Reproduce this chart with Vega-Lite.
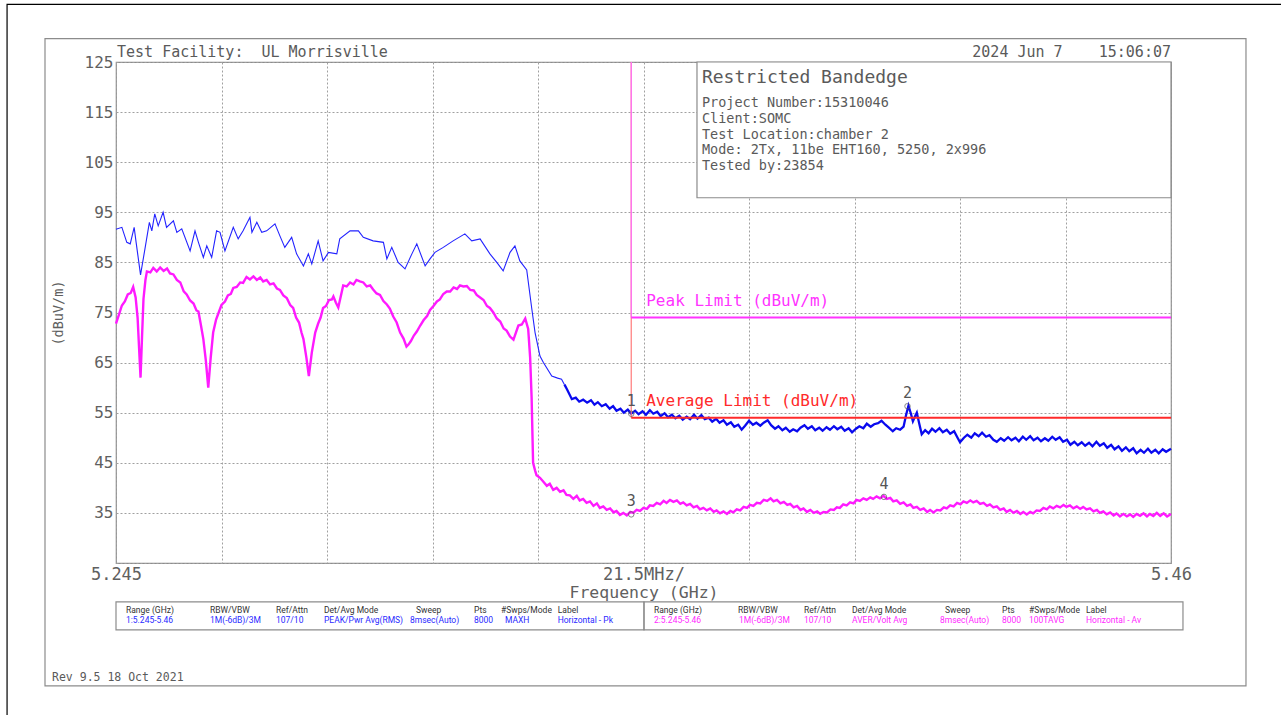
{
"$schema": "https://vega.github.io/schema/vega-lite/v6.json",
"width": 1055, "height": 501,
"autosize": {"type": "none"},
"padding": {"left": 116, "top": 62, "right": 110, "bottom": 152},
"background": "white",
"config": {"view": {"stroke": "#8c8c8c", "strokeWidth": 1.2}},
"resolve": {"scale": {"color": "independent", "stroke": "independent"}},
"datasets": {
"fr": [
{"k":"page","x1":5222.8,"x2":5495,"y1":136.5,"y2":-12},
{"k":"frame","x1":5230.53,"x2":5475.28,"y1":129.66,"y2":0.46},
{"k":"table","x1":5245,"x2":5352.6,"y1":17.26,"y2":11.66},
{"k":"table","x1":5352.6,"x2":5462.44,"y1":17.26,"y2":11.66}
],
"box": [{"x1":5363.4,"x2":5460,"y1":125,"y2":97.9}],
"lim": [
{"L":"Average","f":5350,"f2":5460,"lv":54,"t":"Average Limit (dBuV/m)"},
{"L":"Peak","f":5350,"f2":5460,"lv":74,"t":"Peak Limit (dBuV/m)"}
],
"mk": [
{"m":"1","f":5350.0,"v":54.8},
{"m":"2","f":5406.3,"v":56.3},
{"m":"3","f":5350.0,"v":34.7},
{"m":"4","f":5401.5,"v":38.2}
],
"pkA": [
{"f":5245.0,"v":91.6},{"f":5246.2,"v":92.0},{"f":5247.2,"v":89.0},{"f":5247.9,"v":88.7},{"f":5248.7,"v":92.0},{"f":5249.1,"v":89.0},{"f":5250.0,"v":82.5},{"f":5250.9,"v":87.7},{"f":5251.8,"v":93.0},{"f":5252.3,"v":91.3},{"f":5252.9,"v":94.7},{"f":5253.6,"v":92.3},{"f":5254.6,"v":95.0},{"f":5255.3,"v":92.0},{"f":5256.7,"v":93.3},{"f":5257.4,"v":91.0},{"f":5258.4,"v":91.7},{"f":5260.1,"v":87.3},{"f":5261.1,"v":91.3},{"f":5261.8,"v":89.0},{"f":5262.8,"v":86.0},{"f":5263.5,"v":88.3},{"f":5264.5,"v":86.0},{"f":5265.5,"v":91.3},{"f":5266.2,"v":91.0},{"f":5267.2,"v":87.3},{"f":5268.9,"v":92.0},{"f":5269.9,"v":89.7},{"f":5270.9,"v":91.3},{"f":5272.3,"v":94.0},{"f":5272.7,"v":91.0},{"f":5273.7,"v":93.0},{"f":5274.7,"v":91.0},{"f":5275.7,"v":91.3},{"f":5277.4,"v":92.7},{"f":5278.4,"v":90.3},{"f":5279.4,"v":88.0},{"f":5280.8,"v":90.0},{"f":5281.8,"v":86.7},{"f":5283.2,"v":84.3},{"f":5284.2,"v":86.7},{"f":5284.9,"v":84.7},{"f":5286.2,"v":89.3},{"f":5287.2,"v":85.3},{"f":5288.3,"v":87.0},{"f":5290.0,"v":86.7},{"f":5290.6,"v":89.7},{"f":5292.7,"v":91.3},{"f":5294.4,"v":91.3},{"f":5295.4,"v":90.0},{"f":5297.4,"v":89.3},{"f":5299.5,"v":89.0},{"f":5300.2,"v":85.7},{"f":5301.2,"v":88.0},{"f":5302.5,"v":85.0},{"f":5303.9,"v":83.7},{"f":5305.3,"v":86.7},{"f":5306.3,"v":88.7},{"f":5308.0,"v":84.3},{"f":5309.0,"v":85.7},{"f":5310.0,"v":87.0},{"f":5311.7,"v":88.0},{"f":5313.7,"v":89.3},{"f":5316.1,"v":90.7},{"f":5317.5,"v":89.3},{"f":5319.2,"v":89.7},{"f":5321.2,"v":86.7},{"f":5322.6,"v":85.0},{"f":5323.9,"v":83.3},{"f":5325.3,"v":87.0},{"f":5326.3,"v":88.3},{"f":5327.3,"v":85.3},{"f":5328.7,"v":83.5},{"f":5329.7,"v":76.0},{"f":5330.4,"v":71.0},{"f":5331.4,"v":66.3},{"f":5332.1,"v":65.0},{"f":5333.8,"v":62.3},{"f":5335.0,"v":61.9},{"f":5335.8,"v":61.7},{"f":5336.4,"v":60.6}
],
"pkB": [
{"f":5336.4,"v":60.6},{"f":5336.9,"v":59.7},{"f":5337.9,"v":57.7},{"f":5338.7,"v":58.0},{"f":5339.4,"v":57.2},{"f":5340.2,"v":57.6},{"f":5341.0,"v":57.0},{"f":5341.8,"v":57.5},{"f":5342.5,"v":56.6},{"f":5343.2,"v":57.1},{"f":5344.0,"v":56.3},{"f":5344.8,"v":56.7},{"f":5345.6,"v":55.8},{"f":5346.3,"v":56.3},{"f":5347.0,"v":55.4},{"f":5347.8,"v":55.8},{"f":5348.5,"v":55.0},{"f":5349.3,"v":55.6},{"f":5350.0,"v":54.8},{"f":5350.8,"v":55.4},{"f":5351.5,"v":54.7},{"f":5352.3,"v":55.3},{"f":5353.0,"v":54.6},{"f":5353.8,"v":55.5},{"f":5354.5,"v":54.8},{"f":5355.3,"v":55.2},{"f":5356.0,"v":54.3},{"f":5356.8,"v":54.9},{"f":5357.5,"v":54.1},{"f":5358.3,"v":54.6},{"f":5359.0,"v":53.9},{"f":5359.8,"v":54.4},{"f":5360.5,"v":53.6},{"f":5361.3,"v":54.2},{"f":5362.0,"v":53.7},{"f":5362.8,"v":54.6},{"f":5363.5,"v":53.8},{"f":5364.3,"v":54.5},{"f":5365.0,"v":53.7},{"f":5365.8,"v":54.0},{"f":5366.5,"v":53.2},{"f":5367.3,"v":53.8},{"f":5368.0,"v":53.0},{"f":5368.8,"v":53.5},{"f":5369.5,"v":52.6},{"f":5370.3,"v":53.1},{"f":5371.0,"v":52.2},{"f":5371.8,"v":52.6},{"f":5372.5,"v":51.6},{"f":5373.2,"v":52.4},{"f":5374.0,"v":53.4},{"f":5374.8,"v":52.6},{"f":5375.5,"v":53.0},{"f":5376.3,"v":52.4},{"f":5377.0,"v":53.0},{"f":5377.8,"v":53.5},{"f":5378.5,"v":52.5},{"f":5379.3,"v":51.8},{"f":5380.0,"v":52.3},{"f":5380.8,"v":51.5},{"f":5381.5,"v":52.0},{"f":5382.3,"v":51.2},{"f":5383.0,"v":51.7},{"f":5383.8,"v":51.3},{"f":5384.5,"v":52.0},{"f":5385.3,"v":52.5},{"f":5386.0,"v":51.8},{"f":5386.8,"v":52.3},{"f":5387.5,"v":51.5},{"f":5388.3,"v":52.0},{"f":5389.0,"v":51.4},{"f":5389.8,"v":52.1},{"f":5390.5,"v":51.6},{"f":5391.3,"v":52.3},{"f":5392.0,"v":51.7},{"f":5392.8,"v":52.2},{"f":5393.5,"v":51.4},{"f":5394.3,"v":51.9},{"f":5395.0,"v":51.1},{"f":5395.8,"v":51.8},{"f":5396.5,"v":52.3},{"f":5397.3,"v":51.9},{"f":5398.0,"v":52.8},{"f":5398.8,"v":52.2},{"f":5399.5,"v":52.7},{"f":5400.3,"v":52.9},{"f":5401.0,"v":53.4},{"f":5401.8,"v":52.6},{"f":5402.5,"v":52.0},{"f":5403.3,"v":51.3},{"f":5404.0,"v":51.9},{"f":5404.8,"v":51.6},{"f":5405.5,"v":52.2},{"f":5406.0,"v":54.5},{"f":5406.5,"v":56.4},{"f":5407.0,"v":54.8},{"f":5407.4,"v":53.3},{"f":5407.8,"v":54.2},{"f":5408.2,"v":55.0},{"f":5408.7,"v":52.8},{"f":5409.2,"v":50.7},{"f":5409.9,"v":51.5},{"f":5410.6,"v":50.9},{"f":5411.3,"v":51.8},{"f":5412.0,"v":51.2},{"f":5412.8,"v":51.9},{"f":5413.5,"v":51.1},{"f":5414.3,"v":51.6},{"f":5415.0,"v":50.8},{"f":5415.8,"v":51.3},{"f":5416.5,"v":50.0},{"f":5417.0,"v":49.1},{"f":5417.8,"v":50.0},{"f":5418.5,"v":50.6},{"f":5419.3,"v":50.0},{"f":5420.0,"v":50.9},{"f":5420.8,"v":50.3},{"f":5421.5,"v":51.0},{"f":5422.3,"v":50.2},{"f":5423.0,"v":50.5},{"f":5423.8,"v":49.6},{"f":5424.5,"v":49.2},{"f":5425.3,"v":49.9},{"f":5426.0,"v":49.4},{"f":5426.8,"v":50.1},{"f":5427.5,"v":49.5},{"f":5428.3,"v":50.0},{"f":5429.0,"v":49.3},{"f":5429.8,"v":50.2},{"f":5430.5,"v":49.6},{"f":5431.3,"v":50.3},{"f":5432.0,"v":49.5},{"f":5432.8,"v":50.0},{"f":5433.5,"v":49.3},{"f":5434.3,"v":49.9},{"f":5435.0,"v":49.4},{"f":5435.8,"v":50.2},{"f":5436.5,"v":49.6},{"f":5437.3,"v":50.1},{"f":5438.0,"v":49.2},{"f":5438.8,"v":49.6},{"f":5439.5,"v":48.6},{"f":5440.3,"v":49.2},{"f":5441.0,"v":48.5},{"f":5441.8,"v":49.1},{"f":5442.5,"v":48.4},{"f":5443.3,"v":49.0},{"f":5444.0,"v":48.3},{"f":5444.8,"v":49.2},{"f":5445.5,"v":48.4},{"f":5446.3,"v":48.9},{"f":5447.0,"v":48.0},{"f":5447.8,"v":48.6},{"f":5448.5,"v":47.7},{"f":5449.3,"v":48.3},{"f":5450.0,"v":47.4},{"f":5450.8,"v":48.1},{"f":5451.5,"v":47.3},{"f":5452.3,"v":47.9},{"f":5453.0,"v":46.9},{"f":5453.8,"v":47.6},{"f":5454.5,"v":47.0},{"f":5455.3,"v":47.8},{"f":5456.0,"v":47.0},{"f":5456.8,"v":47.6},{"f":5457.5,"v":46.9},{"f":5458.3,"v":47.7},{"f":5459.0,"v":47.2},{"f":5460.0,"v":47.8}
],
"av": [
{"f":5245.0,"v":72.8},{"f":5245.6,"v":74.6},{"f":5246.2,"v":76.4},{"f":5246.8,"v":77.2},{"f":5247.4,"v":78.6},{"f":5248.0,"v":78.9},{"f":5248.5,"v":80.1},{"f":5249.0,"v":78.0},{"f":5249.4,"v":74.0},{"f":5249.7,"v":68.0},{"f":5250.0,"v":62.0},{"f":5250.3,"v":70.0},{"f":5250.6,"v":77.7},{"f":5251.0,"v":81.5},{"f":5251.3,"v":83.2},{"f":5252.0,"v":83.0},{"f":5252.6,"v":83.9},{"f":5253.3,"v":83.2},{"f":5254.0,"v":84.0},{"f":5254.7,"v":83.3},{"f":5255.4,"v":83.8},{"f":5256.0,"v":82.8},{"f":5256.7,"v":82.6},{"f":5257.4,"v":81.5},{"f":5258.1,"v":81.0},{"f":5258.8,"v":79.2},{"f":5259.4,"v":78.6},{"f":5260.1,"v":77.4},{"f":5260.8,"v":76.8},{"f":5261.4,"v":75.4},{"f":5261.8,"v":75.2},{"f":5262.3,"v":72.5},{"f":5262.8,"v":69.7},{"f":5263.3,"v":65.5},{"f":5263.8,"v":60.0},{"f":5264.3,"v":66.0},{"f":5264.8,"v":71.0},{"f":5265.4,"v":73.6},{"f":5266.0,"v":75.2},{"f":5266.5,"v":76.5},{"f":5267.2,"v":77.2},{"f":5267.8,"v":78.4},{"f":5268.4,"v":78.7},{"f":5268.9,"v":79.9},{"f":5269.6,"v":80.1},{"f":5270.3,"v":81.0},{"f":5270.9,"v":80.9},{"f":5271.6,"v":82.1},{"f":5272.3,"v":81.6},{"f":5273.0,"v":82.2},{"f":5273.7,"v":81.5},{"f":5274.4,"v":82.0},{"f":5275.0,"v":81.2},{"f":5275.7,"v":81.5},{"f":5276.4,"v":80.6},{"f":5277.1,"v":80.8},{"f":5277.8,"v":79.8},{"f":5278.4,"v":79.5},{"f":5279.1,"v":78.4},{"f":5279.8,"v":77.9},{"f":5280.5,"v":76.5},{"f":5281.1,"v":75.9},{"f":5281.7,"v":74.0},{"f":5282.3,"v":73.0},{"f":5282.8,"v":71.0},{"f":5283.2,"v":69.7},{"f":5283.8,"v":66.0},{"f":5284.3,"v":62.3},{"f":5284.9,"v":67.0},{"f":5285.6,"v":71.0},{"f":5286.2,"v":72.8},{"f":5286.7,"v":74.0},{"f":5287.2,"v":75.9},{"f":5287.8,"v":76.3},{"f":5288.4,"v":77.5},{"f":5289.0,"v":77.6},{"f":5289.3,"v":78.2},{"f":5289.8,"v":77.0},{"f":5290.3,"v":76.0},{"f":5290.8,"v":78.2},{"f":5291.3,"v":80.4},{"f":5292.0,"v":80.2},{"f":5292.7,"v":81.0},{"f":5293.4,"v":80.6},{"f":5294.0,"v":81.5},{"f":5294.7,"v":81.2},{"f":5295.4,"v":81.0},{"f":5296.1,"v":80.2},{"f":5296.8,"v":80.4},{"f":5297.4,"v":79.6},{"f":5298.1,"v":78.8},{"f":5298.8,"v":78.5},{"f":5299.5,"v":77.3},{"f":5300.2,"v":76.6},{"f":5300.8,"v":75.8},{"f":5301.5,"v":74.2},{"f":5302.2,"v":73.0},{"f":5302.9,"v":71.0},{"f":5303.6,"v":69.8},{"f":5304.2,"v":68.2},{"f":5304.6,"v":68.6},{"f":5305.1,"v":69.3},{"f":5305.7,"v":70.4},{"f":5306.3,"v":71.2},{"f":5307.0,"v":72.4},{"f":5307.7,"v":73.5},{"f":5308.4,"v":74.3},{"f":5309.0,"v":75.5},{"f":5309.7,"v":76.3},{"f":5310.4,"v":77.2},{"f":5311.0,"v":77.6},{"f":5311.7,"v":78.7},{"f":5312.4,"v":79.2},{"f":5313.1,"v":79.2},{"f":5313.8,"v":80.0},{"f":5314.5,"v":79.7},{"f":5315.1,"v":80.4},{"f":5315.8,"v":80.2},{"f":5316.5,"v":80.3},{"f":5317.2,"v":79.5},{"f":5317.9,"v":79.4},{"f":5318.5,"v":78.5},{"f":5319.2,"v":78.0},{"f":5319.9,"v":77.5},{"f":5320.6,"v":76.3},{"f":5321.2,"v":75.9},{"f":5321.9,"v":75.0},{"f":5322.6,"v":73.8},{"f":5323.3,"v":73.2},{"f":5324.0,"v":71.8},{"f":5324.6,"v":71.4},{"f":5325.3,"v":70.2},{"f":5326.0,"v":69.6},{"f":5326.5,"v":71.0},{"f":5327.0,"v":72.4},{"f":5327.7,"v":72.6},{"f":5328.4,"v":73.8},{"f":5329.0,"v":71.7},{"f":5329.4,"v":66.0},{"f":5329.7,"v":58.0},{"f":5330.0,"v":45.0},{"f":5330.4,"v":43.5},{"f":5330.7,"v":42.5},{"f":5331.4,"v":42.0},{"f":5332.1,"v":41.2},{"f":5332.8,"v":40.4},{"f":5333.4,"v":40.8},{"f":5334.1,"v":39.6},{"f":5334.8,"v":40.0},{"f":5335.5,"v":39.2},{"f":5336.2,"v":39.5},{"f":5336.8,"v":38.6},{"f":5337.5,"v":38.5},{"f":5338.2,"v":37.8},{"f":5338.9,"v":38.4},{"f":5339.5,"v":37.5},{"f":5340.2,"v":37.8},{"f":5340.9,"v":37.0},{"f":5341.6,"v":37.3},{"f":5342.3,"v":36.4},{"f":5343.0,"v":36.9},{"f":5343.6,"v":36.0},{"f":5344.3,"v":36.3},{"f":5345.0,"v":35.6},{"f":5345.7,"v":35.9},{"f":5346.4,"v":35.1},{"f":5347.0,"v":35.4},{"f":5347.7,"v":34.6},{"f":5348.4,"v":35.0},{"f":5349.1,"v":34.5},{"f":5349.8,"v":35.2},{"f":5350.4,"v":35.0},{"f":5351.1,"v":35.6},{"f":5351.8,"v":35.4},{"f":5352.5,"v":36.0},{"f":5353.2,"v":35.8},{"f":5353.8,"v":36.5},{"f":5354.5,"v":36.4},{"f":5355.2,"v":37.0},{"f":5355.9,"v":36.7},{"f":5356.6,"v":37.4},{"f":5357.2,"v":37.0},{"f":5357.9,"v":37.6},{"f":5358.6,"v":37.2},{"f":5359.3,"v":37.5},{"f":5360.0,"v":36.8},{"f":5360.6,"v":37.1},{"f":5361.3,"v":36.5},{"f":5362.0,"v":36.8},{"f":5362.7,"v":36.1},{"f":5363.4,"v":36.4},{"f":5364.0,"v":35.7},{"f":5364.7,"v":36.0},{"f":5365.4,"v":35.5},{"f":5366.1,"v":35.9},{"f":5366.8,"v":35.2},{"f":5367.4,"v":35.5},{"f":5368.1,"v":34.9},{"f":5368.8,"v":35.3},{"f":5369.5,"v":34.8},{"f":5370.2,"v":35.4},{"f":5370.8,"v":35.1},{"f":5371.5,"v":35.7},{"f":5372.2,"v":35.5},{"f":5372.9,"v":36.2},{"f":5373.6,"v":36.0},{"f":5374.2,"v":36.6},{"f":5374.9,"v":36.4},{"f":5375.6,"v":37.0},{"f":5376.3,"v":36.9},{"f":5377.0,"v":37.6},{"f":5377.7,"v":37.4},{"f":5378.4,"v":37.9},{"f":5379.0,"v":37.3},{"f":5379.7,"v":37.6},{"f":5380.4,"v":36.9},{"f":5381.1,"v":37.2},{"f":5381.8,"v":36.6},{"f":5382.4,"v":36.8},{"f":5383.1,"v":36.1},{"f":5383.8,"v":36.4},{"f":5384.5,"v":35.6},{"f":5385.1,"v":35.9},{"f":5385.8,"v":35.2},{"f":5386.5,"v":35.6},{"f":5387.2,"v":35.0},{"f":5387.9,"v":35.3},{"f":5388.5,"v":34.8},{"f":5389.2,"v":35.2},{"f":5389.9,"v":35.1},{"f":5390.6,"v":35.7},{"f":5391.3,"v":35.6},{"f":5391.9,"v":36.1},{"f":5392.5,"v":36.0},{"f":5393.2,"v":36.7},{"f":5393.9,"v":36.5},{"f":5394.6,"v":37.1},{"f":5395.3,"v":36.9},{"f":5395.9,"v":37.6},{"f":5396.6,"v":37.4},{"f":5397.3,"v":37.9},{"f":5398.0,"v":37.6},{"f":5398.7,"v":38.1},{"f":5399.3,"v":37.8},{"f":5400.0,"v":38.3},{"f":5400.7,"v":37.9},{"f":5401.4,"v":38.4},{"f":5402.1,"v":37.8},{"f":5402.8,"v":38.0},{"f":5403.4,"v":37.3},{"f":5404.1,"v":37.5},{"f":5404.8,"v":36.8},{"f":5405.5,"v":37.1},{"f":5406.2,"v":36.4},{"f":5406.9,"v":36.7},{"f":5407.5,"v":36.0},{"f":5408.2,"v":36.2},{"f":5408.9,"v":35.6},{"f":5409.6,"v":35.9},{"f":5410.3,"v":35.2},{"f":5410.9,"v":35.6},{"f":5411.6,"v":35.1},{"f":5412.3,"v":35.6},{"f":5413.0,"v":35.5},{"f":5413.7,"v":36.1},{"f":5414.3,"v":35.9},{"f":5415.0,"v":36.5},{"f":5415.7,"v":36.3},{"f":5416.4,"v":37.0},{"f":5417.1,"v":36.7},{"f":5417.7,"v":37.3},{"f":5418.4,"v":37.0},{"f":5419.1,"v":37.5},{"f":5419.7,"v":37.1},{"f":5420.4,"v":37.4},{"f":5421.1,"v":36.8},{"f":5421.8,"v":37.0},{"f":5422.5,"v":36.4},{"f":5423.1,"v":36.7},{"f":5423.8,"v":36.1},{"f":5424.5,"v":36.3},{"f":5425.2,"v":35.6},{"f":5425.9,"v":35.9},{"f":5426.5,"v":35.2},{"f":5427.2,"v":35.6},{"f":5427.9,"v":35.0},{"f":5428.6,"v":35.4},{"f":5429.3,"v":34.8},{"f":5429.9,"v":35.2},{"f":5430.6,"v":34.7},{"f":5431.3,"v":35.2},{"f":5431.9,"v":34.9},{"f":5432.6,"v":35.5},{"f":5433.3,"v":35.4},{"f":5434.0,"v":36.0},{"f":5434.7,"v":35.7},{"f":5435.3,"v":36.3},{"f":5436.0,"v":35.9},{"f":5436.7,"v":36.4},{"f":5437.4,"v":36.1},{"f":5438.1,"v":36.6},{"f":5438.7,"v":36.2},{"f":5439.4,"v":36.5},{"f":5440.1,"v":35.9},{"f":5440.8,"v":36.3},{"f":5441.5,"v":35.8},{"f":5442.1,"v":36.2},{"f":5442.8,"v":35.7},{"f":5443.5,"v":35.9},{"f":5444.2,"v":35.3},{"f":5444.9,"v":35.6},{"f":5445.5,"v":35.0},{"f":5446.2,"v":35.3},{"f":5446.9,"v":34.7},{"f":5447.6,"v":35.1},{"f":5448.3,"v":34.5},{"f":5448.9,"v":34.9},{"f":5449.6,"v":34.3},{"f":5450.3,"v":34.8},{"f":5451.0,"v":34.3},{"f":5451.7,"v":34.7},{"f":5452.3,"v":34.2},{"f":5453.0,"v":34.8},{"f":5453.7,"v":34.4},{"f":5454.4,"v":34.9},{"f":5455.1,"v":34.3},{"f":5455.7,"v":34.8},{"f":5456.4,"v":34.4},{"f":5457.1,"v":35.0},{"f":5457.8,"v":34.4},{"f":5458.5,"v":34.9},{"f":5459.2,"v":34.3},{"f":5460.0,"v":34.8}
],
"th": [
{"x":5247.04,"t":"Range (GHz)"},{"x":5264.16,"t":"RBW/VBW"},{"x":5277.61,"t":"Ref/Attn"},{"x":5287.39,"t":"Det/Avg Mode"},{"x":5306.14,"t":"Sweep"},{"x":5317.96,"t":"Pts"},{"x":5323.46,"t":"#Swps/Mode"},{"x":5335.01,"t":"Label"},
{"x":5354.64,"t":"Range (GHz)"},{"x":5371.76,"t":"RBW/VBW"},{"x":5385.21,"t":"Ref/Attn"},{"x":5394.99,"t":"Det/Avg Mode"},{"x":5413.94,"t":"Sweep"},{"x":5425.56,"t":"Pts"},{"x":5431.06,"t":"#Swps/Mode"},{"x":5442.68,"t":"Label"}
],
"tv": [
{"x":5247.04,"t":"1:5.245-5.46","s":"Pk"},{"x":5264.16,"t":"1M(-6dB)/3M","s":"Pk"},{"x":5277.61,"t":"107/10","s":"Pk"},{"x":5287.39,"t":"PEAK/Pwr Avg(RMS)","s":"Pk"},{"x":5304.91,"t":"8msec(Auto)","s":"Pk"},{"x":5317.96,"t":"8000","s":"Pk"},{"x":5324.27,"t":"MAXH","s":"Pk"},{"x":5335.01,"t":"Horizontal - Pk","s":"Pk"},
{"x":5354.64,"t":"2:5.245-5.46","s":"Av"},{"x":5371.96,"t":"1M(-6dB)/3M","s":"Av"},{"x":5385.21,"t":"107/10","s":"Av"},{"x":5394.99,"t":"AVER/Volt Avg","s":"Av"},{"x":5412.92,"t":"8msec(Auto)","s":"Av"},{"x":5425.56,"t":"8000","s":"Av"},{"x":5431.06,"t":"100TAVG","s":"Av"},{"x":5442.68,"t":"Horizontal - Av","s":"Av"}
]
},
"layer": [
{
"data": {"name": "fr"},
"mark": {"type": "rect", "fillOpacity": 0, "strokeWidth": 1.2},
"encoding": {
"x": {"field": "x1", "type": "quantitative", "scale": {"domain": [5245, 5460], "nice": false, "zero": false}},
"x2": {"field": "x2"},
"y": {"field": "y1", "type": "quantitative", "scale": {"domain": [25, 125], "nice": false, "zero": false}},
"y2": {"field": "y2"},
"stroke": {"field": "k", "type": "nominal", "scale": {"domain": ["page", "frame", "table"], "range": ["#000000", "#8c8c8c", "#8c8c8c"]}, "legend": null}
}
},
{
"data": {"name": "pkA"},
"mark": {"type": "line", "color": "#2323ff", "strokeWidth": 1.1},
"encoding": {
"x": {"field": "f", "type": "quantitative", "scale": {"domain": [5245, 5460], "nice": false, "zero": false},
"axis": {"values": [5245, 5266.5, 5288, 5309.5, 5331, 5352.5, 5374, 5395.5, 5417, 5438.5, 5460],
"labelExpr": "datum.value == 5245 ? '5.245' : (datum.value == 5352.5 ? '21.5MHz/' : (datum.value == 5460 ? '5.46' : ''))",
"grid": true, "gridColor": "#a0a0a0", "gridDash": [2, 2], "ticks": false, "domain": false,
"labelFlush": false, "labelOverlap": false, "labelFont": "DejaVu Sans Mono", "labelFontSize": 17, "labelColor": "#606060", "labelPadding": 3,
"title": "Frequency (GHz)", "titleFont": "DejaVu Sans Mono", "titleFontSize": 16.5, "titleFontWeight": "normal", "titleColor": "#606060", "titleY": 21, "titleBaseline": "top"}},
"y": {"field": "v", "type": "quantitative", "scale": {"domain": [25, 125], "nice": false, "zero": false},
"axis": {"values": [25, 35, 45, 55, 65, 75, 85, 95, 105, 115, 125],
"labelExpr": "datum.value == 25 ? '' : datum.label",
"grid": true, "gridColor": "#a0a0a0", "gridDash": [2, 2], "ticks": false, "domain": false,
"labelFont": "DejaVu Sans Mono", "labelFontSize": 16, "labelColor": "#606060", "labelPadding": 3,
"title": "(dBuV/m)", "titleFont": "DejaVu Sans Mono", "titleFontSize": 13.5, "titleFontWeight": "normal", "titleColor": "#606060",
"titleX": -58, "titleY": 250.5, "titleAngle": -90, "titleAlign": "center", "titleBaseline": "middle"}}
}
},
{
"data": {"name": "pkB"},
"mark": {"type": "line", "color": "#0a0aee", "strokeWidth": 2.3},
"encoding": {
"x": {"field": "f", "type": "quantitative", "scale": {"domain": [5245, 5460], "nice": false, "zero": false}},
"y": {"field": "v", "type": "quantitative", "scale": {"domain": [25, 125], "nice": false, "zero": false}}
}
},
{
"data": {"name": "av"},
"mark": {"type": "line", "color": "#ff1aff", "strokeWidth": 2.4},
"encoding": {
"x": {"field": "f", "type": "quantitative", "scale": {"domain": [5245, 5460], "nice": false, "zero": false}},
"y": {"field": "v", "type": "quantitative", "scale": {"domain": [25, 125], "nice": false, "zero": false}}
}
},
{
"data": {"name": "box"},
"mark": {"type": "rect", "fill": "white", "stroke": "#8c8c8c", "strokeWidth": 1.2},
"encoding": {
"x": {"field": "x1", "type": "quantitative", "scale": {"domain": [5245, 5460], "nice": false, "zero": false}},
"x2": {"field": "x2"},
"y": {"field": "y1", "type": "quantitative", "scale": {"domain": [25, 125], "nice": false, "zero": false}},
"y2": {"field": "y2"}
}
},
{
"data": {"name": "lim"},
"transform": [{"filter": "datum.L == 'Average'"}],
"mark": {"type": "rule", "strokeWidth": 1.2, "color": "#ff7a7a"},
"encoding": {
"x": {"field": "f", "type": "quantitative", "scale": {"domain": [5245, 5460], "nice": false, "zero": false}},
"y": {"field": "lv", "type": "quantitative", "scale": {"domain": [25, 125], "nice": false, "zero": false}},
"y2": {"datum": 125}
}
},
{
"data": {"name": "lim"},
"transform": [{"filter": "datum.L == 'Peak'"}],
"mark": {"type": "rule", "strokeWidth": 1.2, "color": "#ff70ff"},
"encoding": {
"x": {"field": "f", "type": "quantitative", "scale": {"domain": [5245, 5460], "nice": false, "zero": false}},
"y": {"field": "lv", "type": "quantitative", "scale": {"domain": [25, 125], "nice": false, "zero": false}},
"y2": {"datum": 125}
}
},
{
"data": {"name": "lim"},
"mark": {"type": "rule", "strokeWidth": 2},
"encoding": {
"x": {"field": "f", "type": "quantitative", "scale": {"domain": [5245, 5460], "nice": false, "zero": false}},
"x2": {"field": "f2"},
"y": {"field": "lv", "type": "quantitative", "scale": {"domain": [25, 125], "nice": false, "zero": false}},
"color": {"field": "L", "type": "nominal", "scale": {"domain": ["Peak", "Average"], "range": ["#ff33ff", "#ff2a2a"]}, "legend": null}
}
},
{
"data": {"name": "lim"},
"mark": {"type": "text", "align": "left", "baseline": "middle", "dx": 15, "dy": -17, "font": "DejaVu Sans Mono", "fontSize": 16},
"encoding": {
"x": {"field": "f", "type": "quantitative", "scale": {"domain": [5245, 5460], "nice": false, "zero": false}},
"y": {"field": "lv", "type": "quantitative", "scale": {"domain": [25, 125], "nice": false, "zero": false}},
"text": {"field": "t"},
"color": {"field": "L", "type": "nominal", "scale": {"domain": ["Peak", "Average"], "range": ["#ff33ff", "#ff2a2a"]}, "legend": null}
}
},
{
"data": {"name": "mk"},
"mark": {"type": "point", "shape": "circle", "size": 30, "filled": false, "color": "#555555", "strokeWidth": 1},
"encoding": {
"x": {"field": "f", "type": "quantitative", "scale": {"domain": [5245, 5460], "nice": false, "zero": false}},
"y": {"field": "v", "type": "quantitative", "scale": {"domain": [25, 125], "nice": false, "zero": false}}
}
},
{
"data": {"name": "mk"},
"mark": {"type": "text", "align": "center", "baseline": "middle", "dy": -13, "font": "DejaVu Sans Mono", "fontSize": 15, "color": "#555555"},
"encoding": {
"x": {"field": "f", "type": "quantitative", "scale": {"domain": [5245, 5460], "nice": false, "zero": false}},
"y": {"field": "v", "type": "quantitative", "scale": {"domain": [25, 125], "nice": false, "zero": false}},
"text": {"field": "m"}
}
},
{
"data": {"values": [{"t": "Test Facility:\u00a0\u00a0UL Morrisville", "x": 5245.2, "y": 125}]},
"mark": {"type": "text", "align": "left", "baseline": "middle", "dy": -10, "font": "DejaVu Sans Mono", "fontSize": 15, "color": "#5a5a5a"},
"encoding": {
"x": {"field": "x", "type": "quantitative", "scale": {"domain": [5245, 5460], "nice": false, "zero": false}},
"y": {"field": "y", "type": "quantitative", "scale": {"domain": [25, 125], "nice": false, "zero": false}},
"text": {"field": "t"}
}
},
{
"data": {"values": [{"t": "2024 Jun 7\u00a0\u00a0\u00a0\u00a015:06:07", "x": 5460, "y": 125}]},
"mark": {"type": "text", "align": "right", "baseline": "middle", "dy": -10, "font": "DejaVu Sans Mono", "fontSize": 15, "color": "#5a5a5a"},
"encoding": {
"x": {"field": "x", "type": "quantitative", "scale": {"domain": [5245, 5460], "nice": false, "zero": false}},
"y": {"field": "y", "type": "quantitative", "scale": {"domain": [25, 125], "nice": false, "zero": false}},
"text": {"field": "t"}
}
},
{
"data": {"values": [{"t": "Restricted Bandedge", "x": 5364.4, "y": 121.86}]},
"mark": {"type": "text", "align": "left", "baseline": "middle", "font": "DejaVu Sans Mono", "fontSize": 18, "color": "#5a5a5a"},
"encoding": {
"x": {"field": "x", "type": "quantitative", "scale": {"domain": [5245, 5460], "nice": false, "zero": false}},
"y": {"field": "y", "type": "quantitative", "scale": {"domain": [25, 125], "nice": false, "zero": false}},
"text": {"field": "t"}
}
},
{
"data": {"values": [{"t": ["Project Number:15310046", "Client:SOMC", "Test Location:chamber 2", "Mode: 2Tx, 11be EHT160, 5250, 2x996", "Tested by:23854"], "x": 5364.4, "y": 118.2}]},
"mark": {"type": "text", "align": "left", "baseline": "top", "lineHeight": 15.8, "font": "DejaVu Sans Mono", "fontSize": 13.5, "color": "#5a5a5a"},
"encoding": {
"x": {"field": "x", "type": "quantitative", "scale": {"domain": [5245, 5460], "nice": false, "zero": false}},
"y": {"field": "y", "type": "quantitative", "scale": {"domain": [25, 125], "nice": false, "zero": false}},
"text": {"field": "t"}
}
},
{
"data": {"name": "th"},
"transform": [{"calculate": "15.66", "as": "y"}],
"mark": {"type": "text", "align": "left", "baseline": "middle", "font": "Roboto", "fontSize": 8.5, "color": "#333333"},
"encoding": {
"x": {"field": "x", "type": "quantitative", "scale": {"domain": [5245, 5460], "nice": false, "zero": false}},
"y": {"field": "y", "type": "quantitative", "scale": {"domain": [25, 125], "nice": false, "zero": false}},
"text": {"field": "t"}
}
},
{
"data": {"name": "tv"},
"transform": [{"filter": "datum.s == 'Pk'"}, {"calculate": "13.66", "as": "y"}],
"mark": {"type": "text", "align": "left", "baseline": "middle", "font": "Roboto", "fontSize": 8.5, "color": "#2a2aff"},
"encoding": {
"x": {"field": "x", "type": "quantitative", "scale": {"domain": [5245, 5460], "nice": false, "zero": false}},
"y": {"field": "y", "type": "quantitative", "scale": {"domain": [25, 125], "nice": false, "zero": false}},
"text": {"field": "t"}
}
},
{
"data": {"name": "tv"},
"transform": [{"filter": "datum.s == 'Av'"}, {"calculate": "13.66", "as": "y"}],
"mark": {"type": "text", "align": "left", "baseline": "middle", "font": "Roboto", "fontSize": 8.5, "color": "#ff2aff"},
"encoding": {
"x": {"field": "x", "type": "quantitative", "scale": {"domain": [5245, 5460], "nice": false, "zero": false}},
"y": {"field": "y", "type": "quantitative", "scale": {"domain": [25, 125], "nice": false, "zero": false}},
"text": {"field": "t"}
}
},
{
"data": {"values": [{"t": "Rev 9.5 18 Oct 2021", "x": 5231.96, "y": 2.06}]},
"mark": {"type": "text", "align": "left", "baseline": "middle", "font": "DejaVu Sans Mono", "fontSize": 11.5, "color": "#5a5a5a"},
"encoding": {
"x": {"field": "x", "type": "quantitative", "scale": {"domain": [5245, 5460], "nice": false, "zero": false}},
"y": {"field": "y", "type": "quantitative", "scale": {"domain": [25, 125], "nice": false, "zero": false}},
"text": {"field": "t"}
}
}
]
}
